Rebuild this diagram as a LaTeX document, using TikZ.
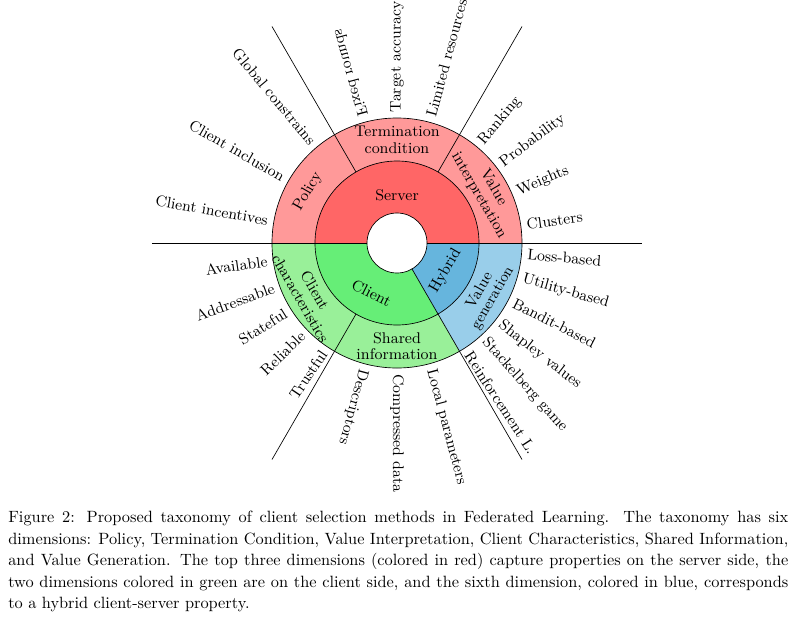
\documentclass[tikz,border=0pt]{standalone}
\begin{document}
\begin{tikzpicture}[x=0.6pt,y=0.6pt,
  lab/.style={inner sep=1pt,font=\fontsize{9.2}{11}\selectfont},
  ring/.style={align=center,inner sep=0pt,font=\fontsize{9.3}{10}\selectfont}]
\definecolor{rO}{HTML}{FF9999}\definecolor{rI}{HTML}{FF6666}
\definecolor{gO}{HTML}{99F099}\definecolor{gI}{HTML}{66EE77}
\definecolor{bO}{HTML}{99CEEA}\definecolor{bI}{HTML}{66B5DD}
\useasboundingbox (-397,243) rectangle (398,-380);
\def\sect#1#2#3#4#5{\fill[#1] (#3:#4) arc (#3:#2:#4) -- (#2:#5) arc (#2:#3:#5) -- cycle;}
\sect{rO}{0}{180}{82}{125}
\sect{gO}{180}{300}{82}{125}
\sect{bO}{300}{360}{82}{125}
\sect{rI}{0}{180}{30}{82}
\sect{gI}{180}{300}{30}{82}
\sect{bI}{300}{360}{30}{82}
\draw (0,0) circle (30) circle (82) circle (125);
\draw (-245,0) -- (-30,0) (30,0) -- (245,0);
\draw (120:82) -- (120:250) (60:82) -- (60:250) (240:82) -- (240:250) (300:30) -- (300:250);
% ring labels
\node[ring] (srv) at (90:48) {Server};
\node[ring,rotate=-27] (cli) at (243:56) {Client};
\node[ring,rotate=60] (hyb) at (330:56) {Hybrid};
\node[ring,rotate=60] (pol) at (150:103) {Policy};
\node[ring] (ter) at (90:103) {Termination\\condition};
\node[ring,rotate=-60] (vin) at (30:103) {Value\\interpretation};
\node[ring,rotate=-60] (cch) at (210:103) {Client\\characteristics};
\node[ring] (shi) at (270:103) {Shared\\information};
\node[ring,rotate=60] (vge) at (330:103) {Value\\[-1pt]{\small generation}};
% outer labels
\node[lab,anchor=west,rotate=-75,xscale=-1] (fr) at (105:129) {Fixed rounds};
\foreach \a/\t [count=\i] in {90/Target accuracy,75/Limited resources,
  50/Ranking,37/Probability,23/Weights,8/Clusters,
  355/Loss-based,344/Utility-based,333/Bandit-based,322/Shapley values,312/Stackelberg game,303/Reinforcement L.,
  285/Local parameters,270/Compressed data,255/Descriptors}
  \node[lab,anchor=west,rotate=\a] (o\i) at (\a:129) {\t};
\foreach \a/\t [count=\i] in {170/Client incentives,150/Client inclusion,130/Global constrains,
  188/Available,200/Addressable,212/Stateful,224/Reliable,236/Trustful}
  \node[lab,anchor=east,rotate=\a-180] (p\i) at (\a:129) {\t};
% caption
\node[anchor=north west,text width=468pt,align=justify,inner sep=0pt,font=\fontsize{9.8}{12.9}\selectfont] (cap) at (-389,-268)
{Figure 2: Proposed taxonomy of client selection methods in Federated Learning. The taxonomy has six dimensions: Policy, Termination Condition, Value Interpretation, Client Characteristics, Shared Information, and Value Generation. The top three dimensions (colored in red) capture properties on the server side, the two dimensions colored in green are on the client side, and the sixth dimension, colored in blue, corresponds to a hybrid client-server property.};
\end{tikzpicture}
\end{document}
